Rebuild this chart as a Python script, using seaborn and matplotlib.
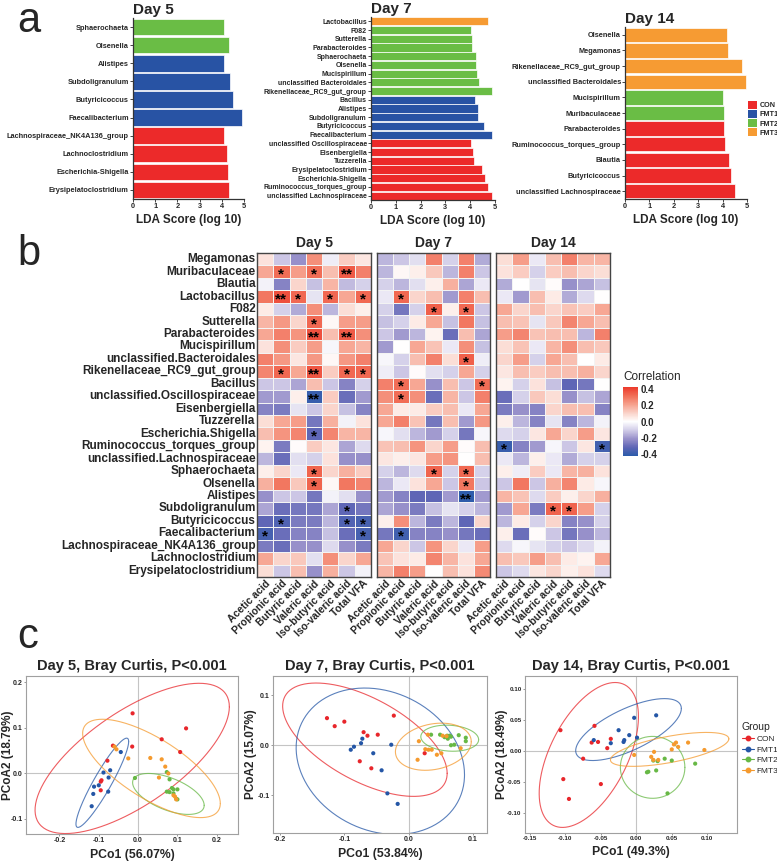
import numpy as np
import pandas as pd
import matplotlib
matplotlib.use("Agg")
import matplotlib.pyplot as plt
import seaborn as sns
from matplotlib.colors import LinearSegmentedColormap
from matplotlib.lines import Line2D
from matplotlib.patches import Patch

sns.set_style("white")
plt.rcParams["font.family"] = ["Liberation Sans", "DejaVu Sans"]
plt.rcParams["axes.unicode_minus"] = False

W, H = 777, 863

# ---------------- data ----------------
groups = ["CON", "FMT1", "FMT2", "FMT3"]
bar_colors = dict(zip(groups, ["#EC2A2A", "#2853A4", "#6ABD45", "#F69B33"]))
dot_colors = dict(zip(groups, ["#E8262B", "#2456A6", "#67B845", "#F59A2E"]))

# panel a : LDA scores (top -> bottom)
lda5_taxa = ["Sphaerochaeta", "Olsenella", "Alistipes", "Subdoligranulum", "Butyricicoccus",
             "Faecalibacterium", "Lachnospiraceae_NK4A136_group", "Lachnoclostridium",
             "Escherichia-Shigella", "Erysipelatoclostridium"]
lda5_group = ["FMT2", "FMT2", "FMT1", "FMT1", "FMT1", "FMT1", "CON", "CON", "CON", "CON"]
lda5_score = [4.10, 4.31, 4.10, 4.37, 4.52, 4.90, 4.10, 4.22, 4.28, 4.32]

lda7_taxa = ["Lactobacillus", "F082", "Sutterella", "Parabacteroides", "Sphaerochaeta", "Olsenella",
             "Mucispirillum", "unclassified Bacteroidales", "Rikenellaceae_RC9_gut_group", "Bacillus",
             "Alistipes", "Subdoligranulum", "Butyricicoccus", "Faecalibacterium",
             "unclassified Oscillospiraceae", "Eisenbergiella", "Tuzzerella", "Erysipelatoclostridium",
             "Escherichia-Shigella", "Ruminococcus_torques_group", "unclassified Lachnospiraceae"]
lda7_group = ["FMT3"] + ["FMT2"] * 8 + ["FMT1"] * 5 + ["CON"] * 7
lda7_score = [4.73, 4.05, 4.09, 4.09, 4.22, 4.22, 4.26, 4.34, 4.88, 4.19, 4.30, 4.31, 4.55, 4.86,
              4.05, 4.12, 4.16, 4.46, 4.59, 4.73, 4.86]

lda14_taxa = ["Olsenella", "Megamonas", "Rikenellaceae_RC9_gut_group", "unclassified Bacteroidales",
              "Mucispirillum", "Muribaculaceae", "Parabacteroides", "Ruminococcus_torques_group",
              "Blautia", "Butyricicoccus", "unclassified Lachnospiraceae"]
lda14_group = ["FMT3"] * 4 + ["FMT2"] * 2 + ["CON"] * 5
lda14_score = [4.20, 4.23, 4.80, 4.96, 4.01, 4.05, 4.05, 4.10, 4.26, 4.34, 4.52]

# panel b : correlation heatmaps
heat_rows = ["Megamonas", "Muribaculaceae", "Blautia", "Lactobacillus", "F082", "Sutterella",
             "Parabacteroides", "Mucispirillum", "unclassified.Bacteroidales",
             "Rikenellaceae_RC9_gut_group", "Bacillus", "unclassified.Oscillospiraceae",
             "Eisenbergiella", "Tuzzerella", "Escherichia.Shigella", "Ruminococcus_torques_group",
             "unclassified.Lachnospiraceae", "Sphaerochaeta", "Olsenella", "Alistipes",
             "Subdoligranulum", "Butyricicoccus", "Faecalibacterium",
             "Lachnospiraceae_NK4A136_group", "Lachnoclostridium", "Erysipelatoclostridium"]
vfa_cols = ["Acetic acid", "Propionic acid", "Butyric acid", "Valeric acid",
            "Iso-butyric acid", "Iso-valeric acid", "Total VFA"]

corr_d5 = [
    [0.07, -0.12, -0.22, 0.25, -0.04, 0.12, 0.06],
    [0.20, 0.32, 0.22, 0.32, 0.15, 0.36, 0.28],
    [-0.03, -0.25, 0.10, -0.13, 0.17, -0.14, -0.10],
    [0.30, 0.38, 0.33, -0.06, 0.33, 0.20, 0.33],
    [0.05, -0.10, -0.17, 0.25, -0.15, 0.08, 0.04],
    [0.17, 0.23, 0.10, 0.33, 0.02, 0.22, 0.22],
    [0.20, 0.28, 0.24, 0.38, 0.15, 0.36, 0.25],
    [0.07, 0.25, 0.12, 0.22, -0.02, 0.20, 0.17],
    [0.28, 0.23, 0.06, 0.23, 0.02, 0.23, 0.28],
    [0.27, 0.33, 0.20, 0.37, 0.12, 0.33, 0.33],
    [-0.12, -0.12, -0.18, 0.15, -0.12, -0.25, -0.10],
    [-0.20, -0.20, 0.04, -0.40, 0.12, -0.30, -0.20],
    [-0.25, -0.27, -0.06, -0.12, 0.10, -0.13, -0.25],
    [0.08, 0.20, 0.22, -0.28, 0.18, -0.03, 0.07],
    [0.15, 0.24, 0.27, -0.32, 0.27, 0.17, 0.17],
    [0.03, -0.27, 0.01, 0.12, 0.06, -0.18, -0.08],
    [-0.15, -0.30, -0.07, -0.10, 0.07, -0.22, -0.22],
    [0.04, 0.10, -0.05, 0.34, 0.10, 0.18, 0.12],
    [0.18, 0.30, 0.13, 0.34, 0.02, 0.30, 0.27],
    [-0.22, -0.12, -0.12, -0.28, -0.03, -0.07, -0.22],
    [-0.18, -0.30, -0.28, -0.28, -0.18, -0.32, -0.28],
    [-0.32, -0.35, -0.27, -0.27, -0.15, -0.35, -0.37],
    [-0.37, -0.30, -0.25, -0.25, -0.13, -0.30, -0.37],
    [-0.27, -0.30, -0.22, -0.22, -0.08, -0.22, -0.27],
    [0.20, 0.10, 0.13, -0.07, 0.25, 0.10, 0.20],
    [0.08, -0.12, 0.15, -0.22, 0.18, -0.12, -0.03],
]
corr_d7 = [
    [-0.15, -0.12, -0.07, 0.28, -0.10, 0.28, -0.17],
    [-0.15, 0.02, 0.04, 0.13, -0.15, 0.28, -0.12],
    [-0.10, -0.15, -0.07, 0.04, 0.18, -0.18, -0.05],
    [-0.05, 0.33, 0.10, 0.15, -0.20, 0.28, 0.15],
    [-0.10, -0.28, -0.10, 0.35, 0.04, 0.33, -0.12],
    [-0.13, -0.10, 0.05, 0.20, -0.13, 0.30, -0.13],
    [-0.12, -0.20, -0.15, 0.03, -0.30, 0.15, -0.18],
    [-0.20, 0.00, 0.20, 0.14, -0.05, 0.25, -0.13],
    [-0.02, -0.10, 0.15, 0.28, 0.08, 0.35, -0.04],
    [-0.04, -0.12, 0.01, -0.07, -0.10, 0.20, -0.10],
    [0.28, 0.32, 0.20, -0.22, 0.15, -0.12, 0.32],
    [0.25, 0.32, 0.25, -0.30, 0.17, -0.12, 0.28],
    [0.20, 0.05, 0.05, 0.12, 0.15, -0.05, 0.20],
    [0.20, 0.28, 0.14, -0.28, 0.15, -0.20, 0.23],
    [-0.02, -0.07, -0.15, -0.20, -0.10, -0.28, -0.02],
    [0.14, 0.15, 0.24, 0.10, 0.22, 0.01, 0.15],
    [0.06, 0.04, 0.06, 0.22, 0.24, 0.00, 0.15],
    [-0.10, -0.15, -0.08, 0.34, -0.10, 0.33, -0.10],
    [-0.15, -0.05, 0.07, 0.20, -0.12, 0.30, -0.12],
    [-0.20, -0.25, -0.32, -0.32, -0.20, -0.42, -0.20],
    [-0.18, -0.22, -0.27, -0.13, -0.06, -0.10, -0.15],
    [0.04, 0.25, -0.15, -0.27, -0.15, -0.32, 0.10],
    [-0.28, -0.38, -0.25, -0.25, -0.22, -0.28, -0.30],
    [0.20, 0.10, -0.12, 0.24, 0.10, -0.05, 0.22],
    [0.14, 0.07, 0.05, 0.27, 0.17, 0.07, 0.20],
    [0.17, 0.28, 0.22, 0.00, 0.15, 0.07, 0.26],
]
corr_d14 = [
    [0.08, 0.22, -0.05, 0.15, 0.28, 0.17, 0.17],
    [0.07, 0.12, -0.10, 0.12, 0.15, 0.10, 0.08],
    [-0.17, 0.00, -0.06, 0.01, -0.22, -0.18, -0.13],
    [-0.05, -0.20, 0.15, 0.05, -0.17, -0.08, 0.00],
    [0.20, 0.10, 0.15, 0.10, 0.14, 0.12, 0.20],
    [0.15, 0.14, -0.06, 0.13, 0.27, 0.20, 0.15],
    [0.22, 0.27, 0.14, 0.15, 0.15, -0.15, 0.28],
    [0.08, 0.14, -0.05, 0.17, 0.25, 0.15, 0.13],
    [0.10, 0.22, -0.10, 0.20, 0.15, 0.00, 0.05],
    [0.06, 0.15, 0.12, 0.15, 0.15, 0.18, 0.10],
    [0.03, -0.10, 0.07, -0.13, -0.32, -0.28, 0.00],
    [-0.30, -0.10, 0.13, 0.08, -0.22, -0.13, -0.18],
    [-0.27, -0.22, -0.25, 0.10, 0.15, 0.15, -0.25],
    [0.04, -0.15, -0.25, -0.06, -0.25, -0.15, -0.03],
    [-0.08, -0.10, 0.06, 0.20, 0.10, 0.22, 0.06],
    [-0.40, -0.25, -0.20, -0.02, -0.12, 0.06, -0.38],
    [-0.05, -0.15, 0.04, -0.05, -0.17, -0.10, -0.10],
    [0.04, -0.04, 0.12, -0.05, 0.17, 0.18, 0.07],
    [-0.12, 0.30, -0.12, 0.18, 0.27, 0.05, -0.02],
    [0.17, 0.14, -0.08, 0.12, 0.04, 0.10, 0.18],
    [-0.20, 0.20, -0.27, 0.34, 0.34, 0.22, -0.10],
    [-0.15, 0.05, -0.10, 0.10, -0.25, -0.22, -0.10],
    [0.04, -0.30, 0.01, -0.12, -0.28, -0.22, -0.15],
    [-0.08, -0.02, -0.06, -0.10, -0.12, -0.08, -0.03],
    [0.15, 0.13, 0.22, 0.15, 0.05, 0.03, 0.20],
    [-0.12, -0.08, 0.06, 0.10, 0.04, 0.07, -0.08],
]
# significance marks: (row, column, mark)
stars_d5 = [(1, 1, "*"), (1, 3, "*"), (1, 5, "**"), (3, 1, "**"), (3, 2, "*"), (3, 4, "*"),
            (3, 6, "*"), (5, 3, "*"), (6, 3, "**"), (6, 5, "**"), (9, 1, "*"), (9, 3, "**"),
            (9, 5, "*"), (9, 6, "*"), (11, 3, "**"), (14, 3, "*"), (17, 3, "*"), (18, 3, "*"),
            (20, 5, "*"), (21, 1, "*"), (21, 5, "*"), (21, 6, "*"), (22, 0, "*"), (22, 6, "*")]
stars_d7 = [(3, 1, "*"), (4, 3, "*"), (4, 5, "*"), (8, 5, "*"), (10, 1, "*"), (10, 6, "*"),
            (11, 1, "*"), (17, 3, "*"), (17, 5, "*"), (18, 5, "*"), (19, 5, "**"), (22, 1, "*")]
stars_d14 = [(15, 0, "*"), (15, 6, "*"), (20, 3, "*"), (20, 4, "*")]

# panel c : PCoA coordinates
pcoa5_x = [-0.014, 0.122, 0.060, -0.015, 0.107, -0.064, -0.078, -0.093, -0.095, -0.095,
           -0.044, -0.071, -0.088, -0.075, -0.100, -0.112, -0.076, -0.114, -0.118,
           -0.008, 0.073, 0.080, 0.086, 0.090, 0.100, 0.073, 0.080, 0.090, 0.097, 0.100,
           -0.060, -0.055, -0.025, 0.031, 0.060, 0.069, 0.077, 0.053, 0.090, 0.094, 0.097]
pcoa5_y = [0.132, 0.099, 0.075, 0.059, 0.047, 0.061, 0.028, -0.015, -0.018, -0.037,
           0.047, 0.007, 0.002, -0.009, -0.026, -0.029, -0.040, -0.045, -0.072,
           -0.010, 0.003, -0.013, -0.032, -0.035, -0.035, -0.040, -0.041, -0.044, -0.056, -0.057,
           0.059, 0.053, 0.033, 0.034, 0.031, 0.015, 0.000, -0.009, -0.048, -0.051, -0.057]
pcoa5_group = ["CON"] * 10 + ["FMT1"] * 9 + ["FMT2"] * 11 + ["FMT3"] * 11

pcoa7_x = [-0.127, -0.115, -0.100, -0.070, -0.064, -0.048, -0.023, -0.076, -0.058, 0.025,
           -0.072, -0.074, -0.085, -0.090, -0.027, -0.055, -0.042, -0.033, -0.017,
           0.035, 0.049, 0.056, 0.060, 0.064, 0.066, 0.078, 0.089, 0.089, 0.071, 0.066, 0.061,
           0.016, 0.030, 0.026, 0.031, 0.036, 0.014, 0.044, 0.051, 0.053, 0.059, 0.081]
pcoa7_y = [0.054, 0.038, 0.047, 0.026, 0.019, 0.021, 0.059, -0.032, -0.046, -0.016,
           0.013, 0.004, -0.003, -0.009, 0.001, -0.016, -0.050, -0.096, -0.117,
           0.021, 0.021, 0.016, 0.019, 0.019, 0.017, 0.020, 0.015, 0.008, 0.001, 0.000, 0.013,
           0.008, 0.021, -0.008, -0.009, -0.009, -0.029, -0.019, -0.016, 0.019, 0.018, -0.006]
pcoa7_group = ["CON"] * 10 + ["FMT1"] * 9 + ["FMT2"] * 12 + ["FMT3"] * 11

pcoa14_x = [-0.107, -0.059, -0.063, -0.054, -0.036, -0.041, -0.075, -0.103, -0.050, -0.095,
            -0.060, -0.036, -0.025, -0.010, -0.017, -0.018, -0.003, 0.001, 0.028,
            0.024, 0.030, 0.040, 0.050, 0.028, 0.017, 0.015, 0.083, 0.044,
            -0.003, 0.025, 0.021, 0.024, 0.031, 0.050, 0.053, 0.056, 0.059, 0.073, 0.096]
pcoa14_y = [0.034, 0.041, 0.014, 0.015, 0.020, 0.005, -0.012, -0.045, -0.053, -0.077,
            0.018, 0.013, 0.034, 0.026, 0.018, 0.015, 0.054, 0.022, 0.058,
            -0.015, -0.016, -0.012, -0.015, -0.031, -0.033, -0.034, -0.020, -0.068,
            -0.006, -0.001, -0.009, -0.014, -0.014, 0.003, 0.011, 0.014, 0.007, 0.014, 0.002]
pcoa14_group = ["CON"] * 10 + ["FMT1"] * 9 + ["FMT2"] * 9 + ["FMT3"] * 11

# confidence ellipses (CON, FMT1, FMT2, FMT3): centre, half extent in x / y, y-offset of rightmost point
ell5_cx = [-0.015, -0.091, 0.077, 0.034]
ell5_cy = [0.033, -0.0205, -0.045, 0.011]
ell5_hw = [0.247, 0.067, 0.091, 0.175]
ell5_hh = [0.165, 0.098, 0.045, 0.108]
ell5_rxy = [0.1135, 0.0905, -0.025, -0.077]

ell7_cx = [-0.068, -0.044, 0.064, 0.0385]
ell7_cy = [0.011, -0.032, 0.014, -0.003]
ell7_hw = [0.128, 0.131, 0.045, 0.059]
ell7_hh = [0.113, 0.146, 0.026, 0.047]
ell7_rxy = [-0.067, -0.027, -0.003, 0.010]

ell14_cx = [-0.067, -0.011, 0.023, 0.047]
ell14_cy = [-0.006, 0.035, -0.026, 0.003]
ell14_hw = [0.070, 0.0745, 0.0455, 0.0835]
ell14_hh = [0.117, 0.050, 0.050, 0.0274]
ell14_rxy = [0.062, 0.034, 0.0, 0.017]


# ---------------- helpers ----------------
def rect(l, t, r, b):
    return [l / W, 1 - b / H, (r - l) / W, (b - t) / H]


def ellipse_path(cx, cy, hw, hh, rxy):
    m = np.array([[hw ** 2, rxy * hw], [rxy * hw, hh ** 2]])
    L = np.linalg.cholesky(m)
    t = np.linspace(0, 2 * np.pi, 200)
    p = L @ np.vstack([np.cos(t), np.sin(t)])
    return cx + p[0], cy + p[1]


fig = plt.figure(figsize=(W / 100, H / 100), dpi=100)


def lda_panel(box, taxa, grp, score, title, fs):
    ax = fig.add_axes(rect(*box))
    df = pd.DataFrame({"taxon": taxa, "group": grp, "score": score})
    sns.barplot(data=df, x="score", y="taxon", hue="group", palette=bar_colors, order=taxa,
                dodge=False, width=0.92, saturation=1, edgecolor="white", linewidth=0.5,
                legend=False, ax=ax)
    ax.set_xlim(0, 5)
    ax.set_xticks([0, 1, 2, 3, 4, 5])
    ax.set_xlabel("LDA Score (log 10)", fontsize=8.5, fontweight="bold", labelpad=3)
    ax.set_ylabel("")
    ax.set_title(title, loc="left", fontsize=11, fontweight="bold", pad=3)
    sns.despine(ax=ax)
    for s in ("left", "bottom"):
        ax.spines[s].set_color("#333333")
        ax.spines[s].set_linewidth(0.9)
    ax.tick_params(axis="y", length=2, width=0.6, pad=1, labelsize=fs, left=True)
    ax.tick_params(axis="x", length=2, width=0.6, pad=1, labelsize=5.3, bottom=True)
    for lbl in ax.get_yticklabels() + ax.get_xticklabels():
        lbl.set_fontweight("bold")
    return ax


lda_panel((133, 18, 244, 199), lda5_taxa, lda5_group, lda5_score, "Day 5", 5.3)
lda_panel((371, 17, 495, 200), lda7_taxa, lda7_group, lda7_score, "Day 7", 5.0)
lda_panel((625, 27, 747, 199), lda14_taxa, lda14_group, lda14_score, "Day 14", 5.3)

fig.legend(handles=[Patch(facecolor=bar_colors[g], edgecolor="none") for g in groups],
           labels=groups, loc="upper left", bbox_to_anchor=(748 / W, 1 - 101 / H),
           frameon=False, handlelength=1.3, handleheight=1.3, handletextpad=0.3,
           labelspacing=0.1, borderaxespad=0, borderpad=0,
           prop={"size": 5.2, "weight": "bold"})

# heatmaps
corr_cmap = LinearSegmentedColormap.from_list(
    "corr", ["#2B5BAA", "#5F66B6", "#9A92CB", "#D2CDE8", "#FFFFFF",
             "#FAD2C8", "#F6A08C", "#F16D56", "#EC3A2B"])


def heat_panel(box, data, stars, title, show_rows):
    ax = fig.add_axes(rect(*box))
    df = pd.DataFrame(data, index=heat_rows, columns=vfa_cols)
    marks = np.full(df.shape, "", dtype=object)
    for r, c, s in stars:
        marks[r, c] = s
    sns.heatmap(df, ax=ax, cmap=corr_cmap, vmin=-0.43, vmax=0.43, cbar=False,
                linewidths=0.4, linecolor="#f3f3f3", annot=marks, fmt="",
                annot_kws={"fontsize": 11, "fontweight": "bold", "color": "black"},
                xticklabels=True, yticklabels=show_rows)
    for t in ax.texts:
        x, y = t.get_position()
        t.set_position((x, y + 0.25))
    for sp in ax.spines.values():
        sp.set_visible(True)
        sp.set_color("#444444")
        sp.set_linewidth(1.0)
    ax.set_title(title, fontsize=10, fontweight="bold", pad=4)
    ax.tick_params(length=0, pad=1)
    ax.set_xticklabels(vfa_cols, rotation=45, ha="right", rotation_mode="anchor",
                       fontsize=7.5, fontweight="bold")
    if show_rows:
        ax.set_yticklabels(heat_rows, rotation=0, fontsize=8.5, fontweight="bold")
    ax.set_xlabel("")
    ax.set_ylabel("")
    return ax


h5 = heat_panel((257, 253, 371, 577), corr_d5, stars_d5, "Day 5", True)
heat_panel((377, 253, 490, 577), corr_d7, stars_d7, "Day 7", False)
heat_panel((496, 253, 610, 577), corr_d14, stars_d14, "Day 14", False)

cax = fig.add_axes(rect(623, 387, 638, 456))
cb = fig.colorbar(h5.collections[0], cax=cax)
cb.set_ticks([0.4, 0.2, 0.0, -0.2, -0.4])
cb.ax.set_yticklabels(["0.4", "0.2", "0.0", "-0.2", "-0.4"], fontsize=7, fontweight="bold")
cb.outline.set_visible(False)
cax.tick_params(length=3, width=0.8, color="white", direction="in", pad=2)
fig.text(623 / W, 1 - 377 / H, "Correlation", fontsize=8.5, va="center", ha="left")


# PCoA panels
def pcoa_panel(box, xs, ys, gs, ell, title, xlab, ylab, xlim, ylim, xticks, yticks, fmt,
               tick_fs=5.0, ylab_x=-0.056):
    ax = fig.add_axes(rect(*box))
    ax.axhline(0, color="#c4c4c4", lw=0.8, zorder=0)
    ax.axvline(0, color="#c4c4c4", lw=0.8, zorder=0)
    df = pd.DataFrame({"x": xs, "y": ys, "group": gs})
    sns.scatterplot(data=df, x="x", y="y", hue="group", palette=dot_colors, s=9,
                    linewidth=0, legend=False, ax=ax, zorder=3)
    for g, cx, cy, hw, hh, rxy in zip(groups, *ell):
        ex, ey = ellipse_path(cx, cy, hw, hh, rxy)
        ax.plot(ex, ey, color=dot_colors[g], lw=0.8, alpha=0.75, zorder=2)
    ax.set_xlim(*xlim)
    ax.set_ylim(*ylim)
    ax.set_xticks(xticks)
    ax.set_yticks(yticks)
    ax.set_xticklabels([fmt % v for v in xticks])
    ax.set_yticklabels([fmt % v for v in yticks])
    ax.tick_params(length=1.5, width=0.6, color="#888888", pad=1, labelsize=tick_fs,
                   bottom=True, left=True)
    for lbl in ax.get_xticklabels() + ax.get_yticklabels():
        lbl.set_fontweight("bold")
    for sp in ax.spines.values():
        sp.set_color("#a0a0a0")
        sp.set_linewidth(0.8)
    ax.set_title(title, fontsize=10.5, fontweight="bold", pad=4)
    ax.set_xlabel(xlab, fontsize=8.8, fontweight="bold", labelpad=3)
    ax.set_ylabel(ylab, fontsize=8.5, fontweight="bold")
    ax.yaxis.set_label_coords(ylab_x, 0.5)
    return ax


pcoa_panel((26, 676, 238, 834), pcoa5_x, pcoa5_y, pcoa5_group,
           (ell5_cx, ell5_cy, ell5_hw, ell5_hh, ell5_rxy),
           "Day 5, Bray Curtis, P<0.001", "PCo1 (56.07%)", "PCoA2 (18.79%)",
           (-0.285, 0.254), (-0.133, 0.214), [-0.2, -0.1, 0.0, 0.1, 0.2], [-0.1, 0.0, 0.1, 0.2], "%.1f")
pcoa_panel((273, 676, 487, 833), pcoa7_x, pcoa7_y, pcoa7_group,
           (ell7_cx, ell7_cy, ell7_hw, ell7_hh, ell7_rxy),
           "Day 7, Bray Curtis, P<0.001", "PCo1 (53.84%)", "PCoA2 (15.07%)",
           (-0.211, 0.122), (-0.175, 0.138), [-0.2, -0.1, 0.0, 0.1], [-0.1, 0.0, 0.1], "%.1f",
           ylab_x=-0.074)
pcoa_panel((525, 676, 737, 833), pcoa14_x, pcoa14_y, pcoa14_group,
           (ell14_cx, ell14_cy, ell14_hw, ell14_hh, ell14_rxy),
           "Day 14, Bray Curtis, P<0.001", "PCo1 (49.3%)", "PCoA2 (18.49%)",
           (-0.157, 0.142), (-0.132, 0.1215), [-0.15, -0.10, -0.05, 0.0, 0.05, 0.10],
           [-0.10, -0.05, 0.0, 0.05, 0.10], "%.2f", tick_fs=4.5, ylab_x=-0.082)

fig.legend(handles=[Line2D([], [], color=dot_colors[g], marker="o", markersize=3.2, lw=0.8)
                    for g in groups],
           labels=groups, title="Group", loc="upper left", bbox_to_anchor=(742 / W, 1 - 722 / H),
           frameon=False, handlelength=1.4, handletextpad=0.3, labelspacing=0.35,
           borderaxespad=0, borderpad=0, alignment="left", prop={"size": 6}, title_fontsize=7.5)

# panel letters
fig.text(17 / W, 1 - 32 / H, "a", fontsize=30)
fig.text(17 / W, 1 - 265 / H, "b", fontsize=30)
fig.text(17 / W, 1 - 648 / H, "c", fontsize=30)

fig.savefig("out.png", dpi=100)
